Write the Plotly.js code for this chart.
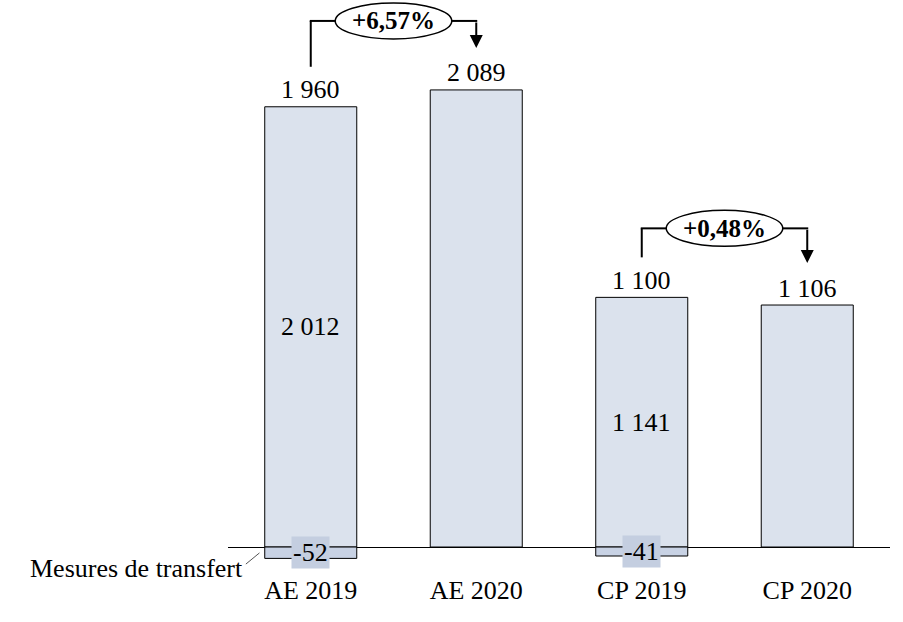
<!DOCTYPE html>
<html><head><meta charset="utf-8">
<script src="https://cdn.plot.ly/plotly-3.0.1.min.js"></script>
<style>html,body{margin:0;padding:0;background:#fff}#c{width:903px;height:622px}</style>
</head><body><div id="c"></div>
<script>
const categories = ['AE 2019', 'AE 2020', 'CP 2019', 'CP 2020'];
const baseValues = [2012, 2089, 1141, 1106];
const transferValues = [-52, 0, -41, 0];
const netValues = [1960, 2089, 1100, 1106];
const variationLabels = ['+6,57%', '+0,48%'];
const variationPairs = [[0, 1], [2, 3]];
const transferLabel = 'Mesures de transfert';

const FONT = 'Liberation Serif';
const W = 903, H = 622;
const M = {l: 228, r: 13, t: 0, b: 52};
const yRange = [-105, 2500];
const plotH = H - M.t - M.b;
const u = (yRange[1] - yRange[0]) / plotH; // data units per pixel

function fmt(v) {
  const s = String(Math.abs(v)).replace(/\B(?=(\d{3})+(?!\d))/g, ' ');
  return (v < 0 ? '-' : '') + s;
}

const idx = categories.map((_, i) => i);

const traces = [
  {
    type: 'bar', x: idx, y: baseValues, width: 0.556,
    marker: {color: '#dbe2ed', line: {color: '#000', width: 1}},
    hoverinfo: 'skip'
  },
  {
    type: 'bar', x: idx, y: transferValues.map(v => v === 0 ? null : v), width: 0.556,
    marker: {color: '#c8d2e4', line: {color: '#000', width: 1}},
    hoverinfo: 'skip'
  }
];

const annotations = [];
const shapes = [];
const txt = (size, bold) => ({family: FONT, size: size, color: '#000', weight: bold ? 'bold' : 'normal'});

idx.forEach(i => {
  annotations.push({x: i, y: baseValues[i], xref: 'x', yref: 'y', text: fmt(netValues[i]),
    showarrow: false, yanchor: 'middle', yshift: 17, font: txt(26)});
  if (transferValues[i] !== 0) {
    annotations.push({x: i, y: baseValues[i] / 2, xref: 'x', yref: 'y', text: fmt(baseValues[i]),
      showarrow: false, font: txt(26)});
    annotations.push({x: i, y: transferValues[i] / 2, xref: 'x', yref: 'y', text: fmt(transferValues[i]),
      showarrow: false, font: txt(26), bgcolor: '#c4cee0', borderpad: 1});
  }
});

// transfer label + leader
annotations.push({x: -0.395, y: -96, xref: 'x', yref: 'y', xanchor: 'right', text: transferLabel,
  showarrow: false, font: txt(26)});
shapes.push({type: 'line', xref: 'x', yref: 'y', x0: -0.392, y0: -78, x1: -0.31, y1: -27,
  line: {color: '#555', width: 1}});

variationPairs.forEach(([a, b], k) => {
  const topA = baseValues[a], topB = baseValues[b];
  const startY = topA + 40 * u;
  const bracketY = Math.max(topA, topB) + 69 * u;
  const tipY = topB + 42 * u;
  const xm = (a + b) / 2, hw = 0.352, hh = 18 * u;
  const ln = {color: '#000', width: 2};
  shapes.push({type: 'line', xref: 'x', yref: 'y', x0: a, y0: startY, x1: a, y1: bracketY, line: ln});
  shapes.push({type: 'line', xref: 'x', yref: 'y', x0: a - 0.006, y0: bracketY, x1: xm - hw, y1: bracketY, line: ln});
  shapes.push({type: 'line', xref: 'x', yref: 'y', x0: xm + hw, y0: bracketY, x1: b + 0.006, y1: bracketY, line: ln});
  shapes.push({type: 'circle', xref: 'x', yref: 'y', x0: xm - hw, x1: xm + hw, y0: bracketY - hh, y1: bracketY + hh,
    line: {color: '#000', width: 1.5}, fillcolor: '#fff'});
  annotations.push({x: xm, y: bracketY, xref: 'x', yref: 'y', text: variationLabels[k], showarrow: false,
    font: txt(25, true)});
  annotations.push({x: b, y: tipY, xref: 'x', yref: 'y', ax: b, ay: bracketY, axref: 'x', ayref: 'y',
    text: '', showarrow: true, arrowhead: 2, arrowsize: 1.3, arrowwidth: 2, arrowcolor: '#000'});
});

const layout = {
  width: W, height: H, margin: M,
  paper_bgcolor: '#fff', plot_bgcolor: '#fff',
  barmode: 'relative', showlegend: false,
  font: {family: FONT, color: '#000'},
  xaxis: {range: [-0.5, 3.5], tickvals: idx, ticktext: categories, ticks: '', showgrid: false,
    zeroline: false, showline: false, tickfont: txt(26), fixedrange: true, ticklabelstandoff: 2},
  yaxis: {range: yRange, showticklabels: false, ticks: '', showgrid: false, zeroline: true,
    zerolinecolor: '#000', zerolinewidth: 1, showline: false, fixedrange: true},
  annotations: annotations, shapes: shapes
};

Plotly.newPlot('c', traces, layout, {displayModeBar: false, staticPlot: true});
</script>
</body></html>
